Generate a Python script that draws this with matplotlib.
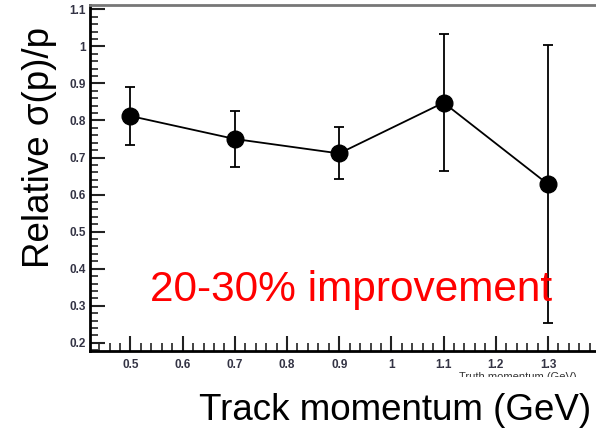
import matplotlib
matplotlib.use("Agg")
import matplotlib.pyplot as plt
from matplotlib.ticker import MultipleLocator
from matplotlib.patches import Rectangle

plt.rcParams['font.family'] = ['Liberation Sans', 'DejaVu Sans']

# track momentum (GeV) and relative resolution with errors
momentum = [0.5, 0.7, 0.9, 1.1, 1.3]
rel_sigma = [0.812, 0.750, 0.711, 0.848, 0.628]
err_sigma = [0.077, 0.076, 0.070, 0.185, 0.375]

xtick_vals = [0.5, 0.6, 0.7, 0.8, 0.9, 1.0, 1.1, 1.2, 1.3]
xtick_labels = ["0.5", "0.6", "0.7", "0.8", "0.9", "1", "1.1", "1.2", "1.3"]
ytick_vals = [0.2, 0.3, 0.4, 0.5, 0.6, 0.7, 0.8, 0.9, 1.0, 1.1]
ytick_labels = ["0.2", "0.3", "0.4", "0.5", "0.6", "0.7", "0.8", "0.9", "1", "1.1"]

fig = plt.figure(figsize=(5.96, 4.32), dpi=100)
ax = fig.add_axes([0.151, 0.1875, 0.856, 0.8005])

ax.errorbar(momentum, rel_sigma, yerr=err_sigma, color='black', lw=1.3,
            marker='o', markersize=12, capsize=3.5, elinewidth=1.3, capthick=1.3)

ax.set_xlim(0.4225, 1.4)
ax.set_ylim(0.178, 1.111)

ax.set_xticks(xtick_vals)
ax.set_xticklabels(xtick_labels)
ax.set_yticks(ytick_vals)
ax.set_yticklabels(ytick_labels)
ax.xaxis.set_minor_locator(MultipleLocator(0.02))
ax.yaxis.set_minor_locator(MultipleLocator(0.02))

ax.tick_params(which='both', direction='in', colors='#222222', labelsize=8.5,
               top=False, right=False)
for lab in ax.get_xticklabels() + ax.get_yticklabels():
    lab.set_fontweight('bold')
    lab.set_color('#333344')
ax.tick_params(which='major', length=11, width=1.5)
ax.tick_params(which='minor', length=6, width=1.2)
ax.tick_params(axis='x', pad=6)
ax.tick_params(axis='y', pad=3)

ax.spines['left'].set_linewidth(2)
ax.spines['bottom'].set_linewidth(2)
ax.spines['top'].set_color('#777777')
ax.spines['top'].set_linewidth(2)
ax.spines['right'].set_visible(False)

ax.text(0.922, 0.343, "20-30% improvement", transform=ax.transData, color='red',
        fontsize=30.5, ha='center', va='center')

# small cut-off axis title of the original plot
fig.text(459 / 596, 1 - 377 / 432, "Truth momentum (GeV)", fontsize=8,
         color='#333333', ha='left', va='center')
fig.patches.append(Rectangle((0, 0), 1, 1 - 377 / 432, transform=fig.transFigure,
                             facecolor='white', edgecolor='none', zorder=5))

fig.text(395 / 596, 1 - 410 / 432, "Track momentum (GeV)", fontsize=26.5,
         ha='center', va='center', zorder=6)
fig.text(40 / 596, 1 - 147 / 432, "Relative σ(p)/p", fontsize=26.5,
         rotation=90, ha='center', va='center')

fig.savefig("out.png", dpi=100)
